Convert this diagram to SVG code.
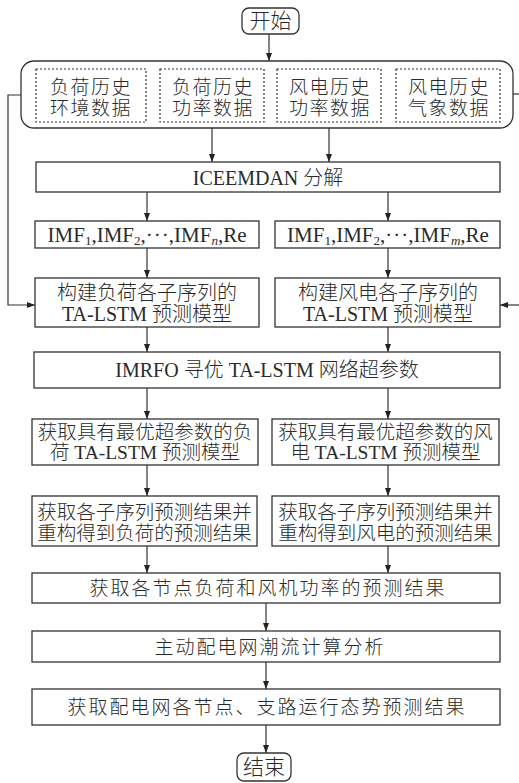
<svg xmlns="http://www.w3.org/2000/svg" width="519" height="783" viewBox="0 0 519 783">
<style>
.b{fill:#fff;stroke:#333;stroke-width:1.3}
.d{fill:none;stroke:#333;stroke-width:1.2;stroke-dasharray:2 2}
.t{font-family:"Liberation Serif","Noto Sans CJK SC",serif;font-size:20px;font-weight:300;fill:#2a2a2a;text-anchor:middle}
.s{font-size:13px}
.c{fill:none;stroke:#333;stroke-width:1.2}
</style>
<defs>
<marker id="a" markerWidth="8" markerHeight="8" viewBox="0 0 8 8" refX="8" refY="4" orient="auto" markerUnits="userSpaceOnUse">
<path d="M0,1 L8,4 L0,7 Z" fill="#222"/>
</marker>
</defs>
<g id="connectors">
<path class="c" d="M269 34 V61" marker-end="url(#a)"/>
<path class="c" d="M212 128 V162" marker-end="url(#a)"/>
<path class="c" d="M329 128 V162" marker-end="url(#a)"/>
<path class="c" d="M147 192 V221" marker-end="url(#a)"/>
<path class="c" d="M388 192 V221" marker-end="url(#a)"/>
<path class="c" d="M147 248 V278" marker-end="url(#a)"/>
<path class="c" d="M388 248 V278" marker-end="url(#a)"/>
<path class="c" d="M36 95 H8 V305 H35" marker-end="url(#a)"/>
<path class="c" d="M500 94 H519"/>
<path class="c" d="M519 305 H500" marker-end="url(#a)"/>
<path class="c" d="M147 327 V352" marker-end="url(#a)"/>
<path class="c" d="M388 327 V352" marker-end="url(#a)"/>
<path class="c" d="M147 388 V419" marker-end="url(#a)"/>
<path class="c" d="M388 388 V419" marker-end="url(#a)"/>
<path class="c" d="M147 465 V496" marker-end="url(#a)"/>
<path class="c" d="M388 465 V496" marker-end="url(#a)"/>
<path class="c" d="M147 546 V573" marker-end="url(#a)"/>
<path class="c" d="M388 546 V573" marker-end="url(#a)"/>
<path class="c" d="M266 603 V631" marker-end="url(#a)"/>
<path class="c" d="M266 662 V689" marker-end="url(#a)"/>
<path class="c" d="M266 725 V753" marker-end="url(#a)"/>
</g>
<g id="start">
<rect class="b" x="242" y="8" width="57" height="26" rx="7"/>
<text class="t" x="270.5" y="28" style="font-size:21px">开始</text>
</g>
<g id="data">
<rect class="b" x="21" y="61" width="492" height="67" rx="13"/>
<rect class="d" x="36" y="69" width="110" height="53"/>
<rect class="d" x="160" y="69" width="104" height="53"/>
<rect class="d" x="277" y="69" width="104" height="53"/>
<rect class="d" x="396" y="69" width="104" height="53"/>
<text class="t" x="91" y="94" style="font-size:19px;letter-spacing:1.5px">负荷历史</text>
<text class="t" x="91" y="115" style="font-size:19px;letter-spacing:1.5px">环境数据</text>
<text class="t" x="213" y="94" style="font-size:19px;letter-spacing:1.5px">负荷历史</text>
<text class="t" x="213" y="115" style="font-size:19px;letter-spacing:1.5px">功率数据</text>
<text class="t" x="330" y="94" style="font-size:19px;letter-spacing:1.5px">风电历史</text>
<text class="t" x="330" y="115" style="font-size:19px;letter-spacing:1.5px">功率数据</text>
<text class="t" x="449" y="94" style="font-size:19px;letter-spacing:1.5px">风电历史</text>
<text class="t" x="449" y="115" style="font-size:19px;letter-spacing:1.5px">气象数据</text>
</g>
<g id="iceemdan">
<rect class="b" x="36" y="162" width="464" height="30"/>
<text class="t" x="268" y="185">ICEEMDAN 分解</text>
</g>
<g id="imf-load">
<rect class="b" x="35" y="221" width="224" height="27"/>
<text class="t" x="147" y="242" style="font-size:21px">IMF<tspan class="s" dy="3">1</tspan><tspan dy="-3">,IMF</tspan><tspan class="s" dy="3">2</tspan><tspan dy="-3">,·</tspan><tspan dx="1">·</tspan><tspan dx="1">·</tspan><tspan>,IMF</tspan><tspan class="s" dy="3" font-style="italic">n</tspan><tspan dy="-3">,Re</tspan></text>
</g>
<g id="imf-wind">
<rect class="b" x="275" y="221" width="225" height="27"/>
<text class="t" x="388" y="242" style="font-size:21px">IMF<tspan class="s" dy="3">1</tspan><tspan dy="-3">,IMF</tspan><tspan class="s" dy="3">2</tspan><tspan dy="-3">,·</tspan><tspan dx="1">·</tspan><tspan dx="1">·</tspan><tspan>,IMF</tspan><tspan class="s" dy="3" font-style="italic">m</tspan><tspan dy="-3">,Re</tspan></text>
</g>
<g id="model-load">
<rect class="b" x="35" y="278" width="224" height="49"/>
<text class="t" x="147" y="300">构建负荷各子序列的</text>
<text class="t" x="147" y="321">TA-LSTM 预测模型</text>
</g>
<g id="model-wind">
<rect class="b" x="275" y="278" width="225" height="49"/>
<text class="t" x="388" y="300">构建风电各子序列的</text>
<text class="t" x="388" y="321">TA-LSTM 预测模型</text>
</g>
<g id="imrfo">
<rect class="b" x="34" y="352" width="466" height="36"/>
<text class="t" x="267" y="377">IMRFO 寻优 TA-LSTM 网络超参数</text>
</g>
<g id="opt-load">
<rect class="b" x="32" y="419" width="226" height="46"/>
<text class="t" x="145" y="439" style="font-size:19.5px">获取具有最优超参数的负</text>
<text class="t" x="145" y="459" style="font-size:19.5px">荷 TA-LSTM 预测模型</text>
</g>
<g id="opt-wind">
<rect class="b" x="272" y="419" width="227" height="46"/>
<text class="t" x="385.5" y="439" style="font-size:19.5px">获取具有最优超参数的风</text>
<text class="t" x="385.5" y="459" style="font-size:19.5px">电 TA-LSTM 预测模型</text>
</g>
<g id="res-load">
<rect class="b" x="32" y="496" width="225" height="50"/>
<text class="t" x="144.5" y="519" style="font-size:19.5px">获取各子序列预测结果并</text>
<text class="t" x="144.5" y="540" style="font-size:19.5px">重构得到负荷的预测结果</text>
</g>
<g id="res-wind">
<rect class="b" x="272" y="496" width="227" height="50"/>
<text class="t" x="385.5" y="519" style="font-size:19.5px">获取各子序列预测结果并</text>
<text class="t" x="385.5" y="540" style="font-size:19.5px">重构得到风电的预测结果</text>
</g>
<g id="node-result">
<rect class="b" x="32" y="573" width="468" height="30"/>
<text class="t" x="268" y="595" style="font-size:19px;letter-spacing:2px">获取各节点负荷和风机功率的预测结果</text>
</g>
<g id="powerflow">
<rect class="b" x="32" y="631" width="468" height="31"/>
<text class="t" x="270" y="654" style="font-size:19px;letter-spacing:2px">主动配电网潮流计算分析</text>
</g>
<g id="state">
<rect class="b" x="32" y="689" width="468" height="36"/>
<text class="t" x="267" y="714" style="font-size:19px;letter-spacing:2px">获取配电网各节点、支路运行态势预测结果</text>
</g>
<g id="end">
<rect class="b" x="237" y="753" width="54" height="28" rx="7"/>
<text class="t" x="264" y="774" style="font-size:21px">结束</text>
</g>
</svg>
